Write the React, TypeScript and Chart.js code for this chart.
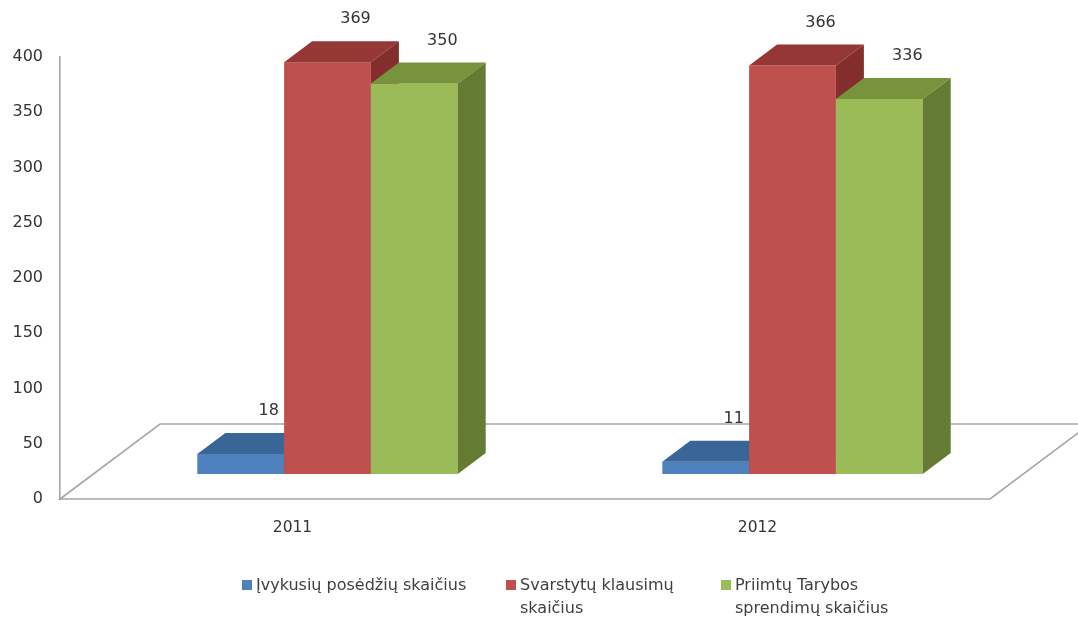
import React, { useEffect, useRef } from "react";
import { Chart, registerables } from "chart.js";

Chart.register(...registerables);

// ---- data ----
const categories = ["2011", "2012"];
const seriesNames = [
  "Įvykusių posėdžių skaičius",
  "Svarstytų klausimų skaičius",
  "Priimtų Tarybos sprendimų skaičius",
];
const legendLines = [
  ["Įvykusių posėdžių skaičius"],
  ["Svarstytų klausimų", "skaičius"],
  ["Priimtų Tarybos", "sprendimų skaičius"],
];
const meetingsHeld = [18, 11];
const questionsConsidered = [369, 366];
const decisionsAdopted = [350, 336];
const yTickValues = [0, 50, 100, 150, 200, 250, 300, 350, 400];

// ---- styles ----
const frontColors = ["#4F81BD", "#C0504D", "#9BBB59"];
const topColors = ["#3A6597", "#953735", "#77933C"];
const sideColors = ["#2F5380", "#832E2C", "#637C32"];
const legendLeft = [242, 506, 721];
const FONT = "'DejaVu Sans', Verdana, sans-serif";

const FLOOR_DEPTH = { x: 100, y: 75 };
const BAR_SHIFT = { x: 35, y: 25 };
const BAR_DEPTH = { x: 28, y: 21 };
const Y_STRETCH = 1.01;

const threeDPlugin = {
  id: "threeD",
  beforeDatasetsDraw(chart: any) {
    const { ctx, chartArea: a, scales } = chart;
    const y0 = scales.y.getPixelForValue(0);
    ctx.save();
    ctx.strokeStyle = "#A6A6A6";
    ctx.lineWidth = 1.6;
    ctx.beginPath();
    ctx.moveTo(a.left, y0);
    ctx.lineTo(a.right, y0);
    ctx.lineTo(a.right + FLOOR_DEPTH.x, y0 - FLOOR_DEPTH.y);
    ctx.lineTo(a.left + FLOOR_DEPTH.x, y0 - FLOOR_DEPTH.y);
    ctx.closePath();
    ctx.stroke();
    ctx.restore();
  },
  beforeDatasetDraw() {
    return false;
  },
  afterDatasetsDraw(chart: any) {
    const { ctx } = chart;
    const n = chart.data.datasets.length;
    const count = chart.data.labels.length;
    ctx.save();
    for (let i = 0; i < count; i++) {
      for (let d = 0; d < n; d++) {
        const el = chart.getDatasetMeta(d).data[i];
        if (!el) continue;
        const p = el.getProps(["x", "y", "base", "width"], true);
        const base = p.base - BAR_SHIFT.y;
        const top = base + (p.y - p.base) * Y_STRETCH;
        const l = p.x - p.width / 2 + BAR_SHIFT.x;
        const r = p.x + p.width / 2 + BAR_SHIFT.x;
        const dx = BAR_DEPTH.x;
        const dy = BAR_DEPTH.y;
        // front
        ctx.fillStyle = frontColors[d];
        ctx.fillRect(l, top, r - l, base - top);
        // top
        ctx.fillStyle = topColors[d];
        ctx.beginPath();
        ctx.moveTo(l, top);
        ctx.lineTo(l + dx, top - dy);
        ctx.lineTo(r + dx, top - dy);
        ctx.lineTo(r, top);
        ctx.closePath();
        ctx.fill();
        // side
        ctx.fillStyle = sideColors[d];
        ctx.beginPath();
        ctx.moveTo(r, top);
        ctx.lineTo(r + dx, top - dy);
        ctx.lineTo(r + dx, base - dy);
        ctx.lineTo(r, base);
        ctx.closePath();
        ctx.fill();
      }
    }
    // value labels
    ctx.fillStyle = "#333333";
    ctx.font = `16px ${FONT}`;
    ctx.textAlign = "center";
    ctx.textBaseline = "middle";
    for (let d = 0; d < n; d++) {
      const meta = chart.getDatasetMeta(d);
      meta.data.forEach((el: any, i: number) => {
        const p = el.getProps(["x", "y", "base", "width"], true);
        const base = p.base - BAR_SHIFT.y;
        const top = base + (p.y - p.base) * Y_STRETCH;
        const cx = p.x + BAR_SHIFT.x + BAR_DEPTH.x;
        const v = chart.data.datasets[d].data[i];
        ctx.fillText(String(v), cx, top - BAR_DEPTH.y - 22);
      });
    }
    ctx.restore();
  },
};

export default function App() {
  const canvasRef = useRef<HTMLCanvasElement | null>(null);

  useEffect(() => {
    document.body.style.margin = "0";
    const canvas = canvasRef.current;
    if (!canvas) return;
    const seriesData = [meetingsHeld, questionsConsidered, decisionsAdopted];
    const chart = new Chart(canvas, {
      type: "bar",
      data: {
        labels: categories,
        datasets: seriesData.map((data, k) => ({
          label: seriesNames[k],
          data,
          backgroundColor: frontColors[k],
          categoryPercentage: 0.56,
          barPercentage: 1,
        })),
      },
      options: {
        animation: false,
        responsive: false,
        devicePixelRatio: 1,
        layout: { padding: { left: 0, top: 57, right: 88, bottom: 0 } },
        plugins: {
          legend: { display: false },
          tooltip: { enabled: false },
          title: { display: false },
        },
        scales: {
          x: {
            grid: { display: false, drawTicks: false },
            border: { display: false },
            ticks: {
              color: "#333333",
              font: { family: FONT, size: 15.5 },
              padding: 20,
            },
            afterFit: (s: any) => {
              s.height = 118;
            },
          },
          y: {
            min: 0,
            max: 400,
            grid: { display: false, drawTicks: false },
            border: { display: true, color: "#A6A6A6", width: 1.6 },
            afterBuildTicks: (s: any) => {
              s.ticks = yTickValues.map((v) => ({ value: v }));
            },
            ticks: {
              color: "#333333",
              font: { family: FONT, size: 16 },
              padding: 17,
            },
            afterFit: (s: any) => {
              s.width = 60;
            },
          },
        },
      },
      plugins: [threeDPlugin],
    });
    return () => chart.destroy();
  }, []);

  return (
    <div style={{ position: "relative", width: 1078, height: 617, background: "#fff" }}>
      <canvas ref={canvasRef} width={1078} height={617} style={{ display: "block" }} />
      {legendLines.map((lines, k) => (
        <div
          key={k}
          style={{
            position: "absolute",
            left: legendLeft[k],
            top: 573,
            display: "flex",
            alignItems: "flex-start",
            fontFamily: FONT,
            fontSize: 16,
            lineHeight: "23px",
            color: "#404040",
            whiteSpace: "nowrap",
          }}
        >
          <span
            style={{
              display: "inline-block",
              width: 10,
              height: 10,
              background: frontColors[k],
              marginTop: 7,
              marginRight: 4,
            }}
          />
          <span>
            {lines.map((t, j) => (
              <div key={j}>{t}</div>
            ))}
          </span>
        </div>
      ))}
    </div>
  );
}
